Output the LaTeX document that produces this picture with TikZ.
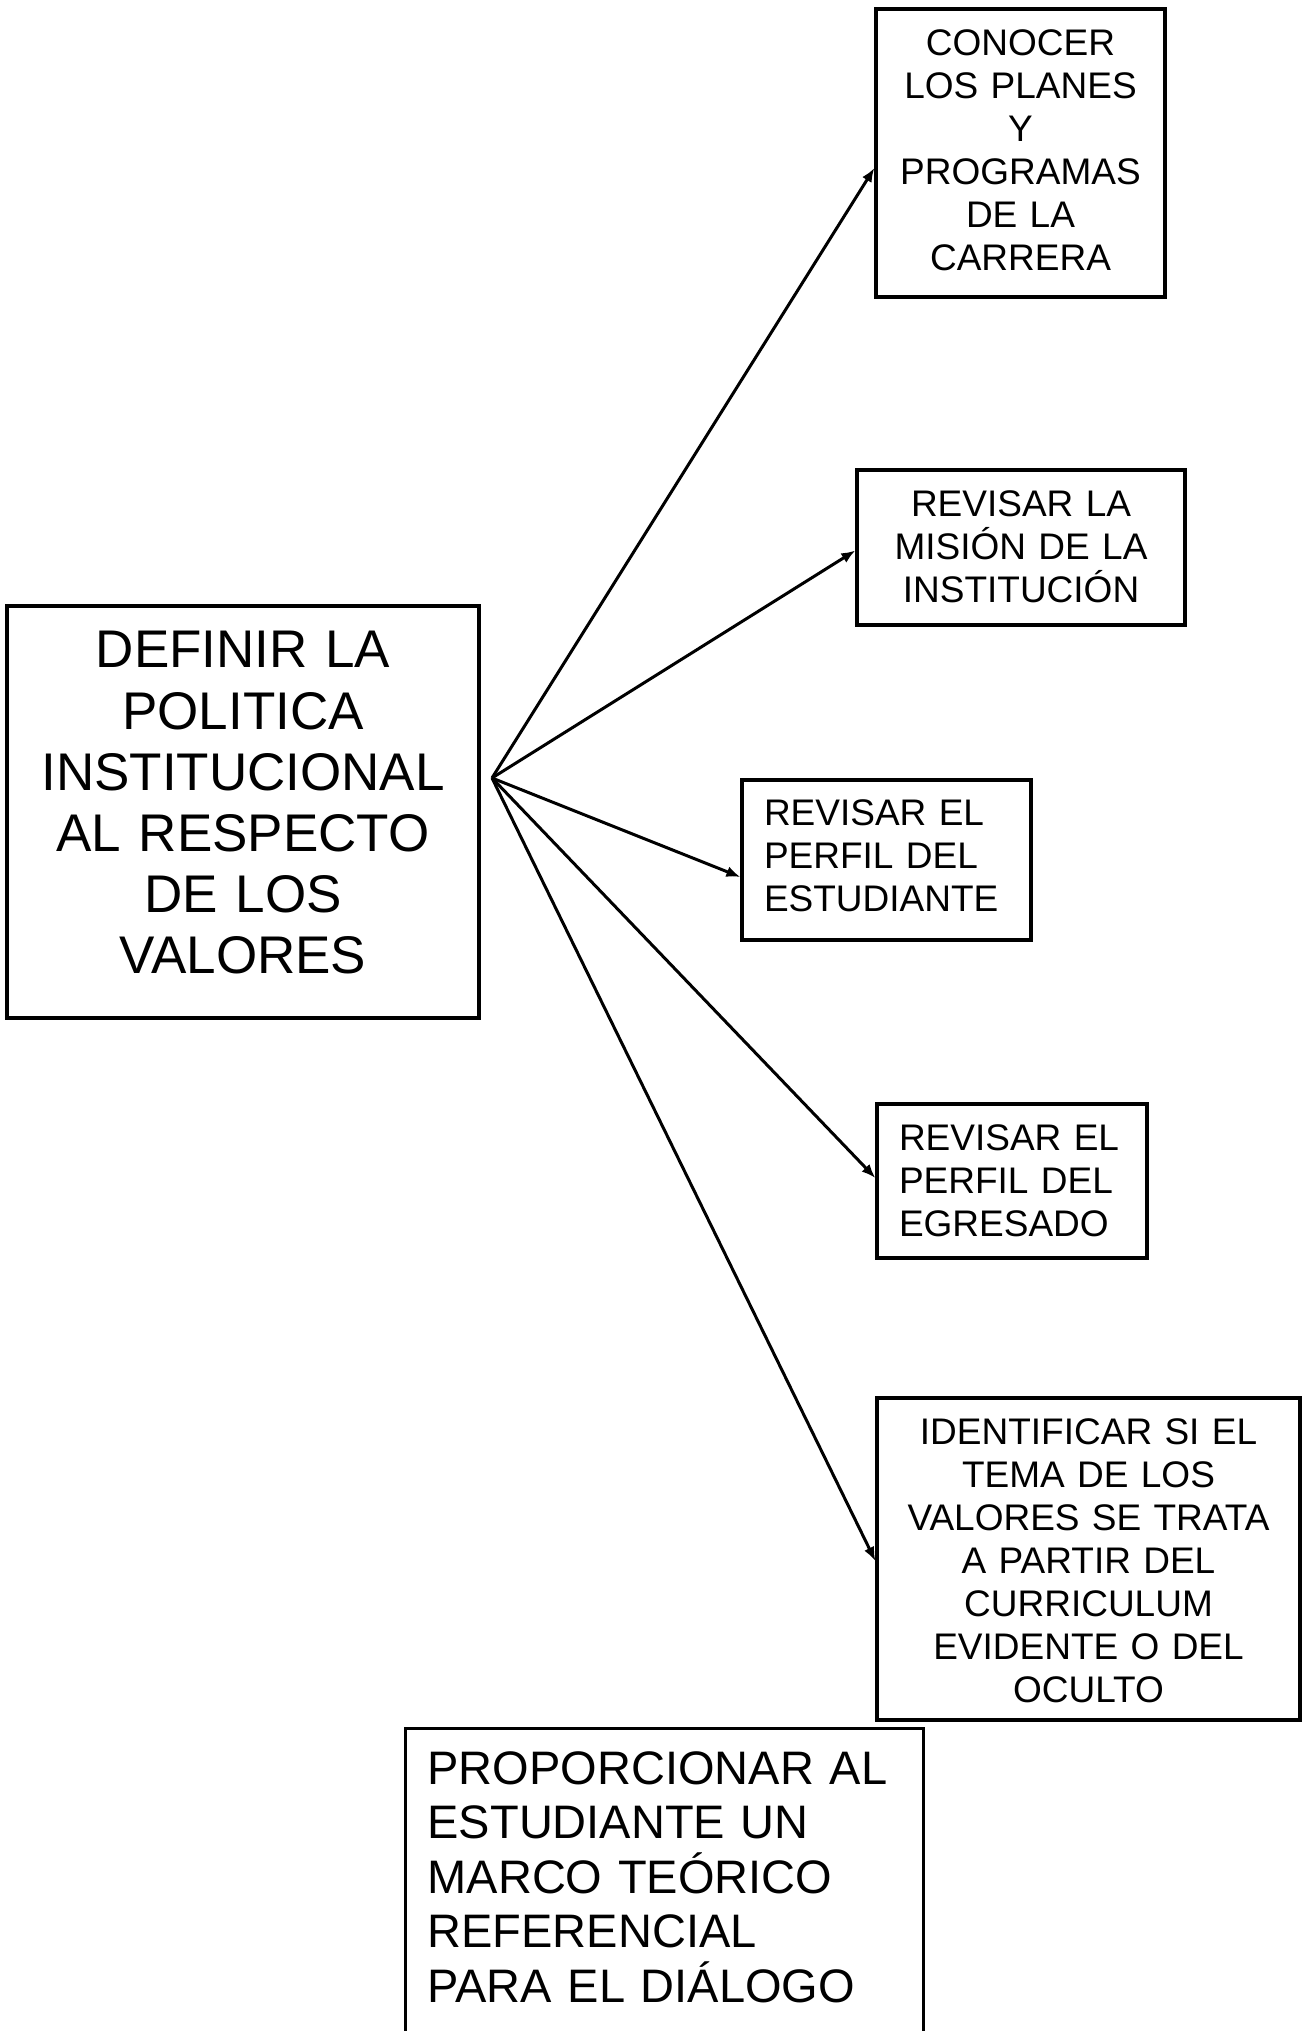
\documentclass[tikz,border=0pt]{standalone}
\usepackage{fontspec}
\setmainfont{Liberation Sans}
\usetikzlibrary{arrows.meta}
\begin{document}
\begin{tikzpicture}[x=1pt,y=-1pt,
  box/.style={draw,line width=3.2pt,inner sep=0pt},
  txt/.style={inner sep=0pt,align=center},
  ltxt/.style={inner sep=0pt,align=left},
  big/.style={font={\fontsize{53}{61.2}\selectfont}},
  small/.style={font={\fontsize{37}{43}\selectfont}},
  mid/.style={font={\fontsize{47}{54.5}\selectfont}},
  arr/.style={-{Latex[length=14pt,width=11pt]},line width=3pt}]
\clip (0,0) rectangle (1303,2031);
\useasboundingbox (0,0) rectangle (1303,2031);
\fill[white] (0,0) rectangle (1303,2031);

\node[box,minimum width=472pt,minimum height=412pt] (main) at (243,812) {};
\node[txt,big,text width=472pt] (mainT) at ([yshift=9pt]main.center)
  {DEFINIR LA\\POLITICA\\INSTITUCIONAL\\AL RESPECTO\\DE LOS\\VALORES};

\node[box,minimum width=289pt,minimum height=288pt] (b1) at (1020.5,153) {};
\node[txt,small,text width=289pt] (b1T) at ([yshift=3pt]b1.center)
  {CONOCER\\LOS PLANES\\Y\\PROGRAMAS\\DE LA\\CARRERA};

\node[box,minimum width=328pt,minimum height=155pt] (b2) at (1021,547.5) {};
\node[txt,small,text width=328pt] (b2T) at ([yshift=1pt]b2.center)
  {REVISAR LA\\MISIÓN DE LA\\INSTITUCIÓN};

\node[box,minimum width=289pt,minimum height=160pt] (b3) at (886.5,860) {};
\node[ltxt,small,text width=245pt] (b3T) at ([yshift=4pt]b3.center)
  {REVISAR EL\\PERFIL DEL\\ESTUDIANTE};

\node[box,minimum width=270pt,minimum height=154pt] (b4) at (1012,1181) {};
\node[ltxt,small,text width=226pt] (b4T) at (b4.center)
  {REVISAR EL\\PERFIL DEL\\EGRESADO};

\node[box,minimum width=423pt,minimum height=322pt] (b5) at (1088.5,1559) {};
\node[txt,small,text width=423pt] (b5T) at ([yshift=-2pt]b5.center)
  {IDENTIFICAR SI EL\\TEMA DE LOS\\VALORES SE TRATA\\A PARTIR DEL\\CURRICULUM\\EVIDENTE O DEL\\OCULTO};

\node[box,minimum width=518pt,minimum height=309pt,anchor=north west] (b6) at (404,1727) {};
\node[ltxt,mid,text width=474pt] (b6T) at ([yshift=6pt]b6.center)
  {PROPORCIONAR AL\\ESTUDIANTE UN\\MARCO TEÓRICO\\REFERENCIAL\\PARA EL DIÁLOGO};

\coordinate (o) at (492,778);
\draw[arr] (o) -- ([yshift=-15pt]b1.west);
\draw[arr] (o) -- ([yshift=-3pt]b2.west);
\draw[arr] (o) -- ([yshift=-17pt]b3.west);
\draw[arr] (o) -- ([yshift=3pt]b4.west);
\draw[arr] (o) -- ([yshift=-2pt]b5.west);
\end{tikzpicture}
\end{document}
